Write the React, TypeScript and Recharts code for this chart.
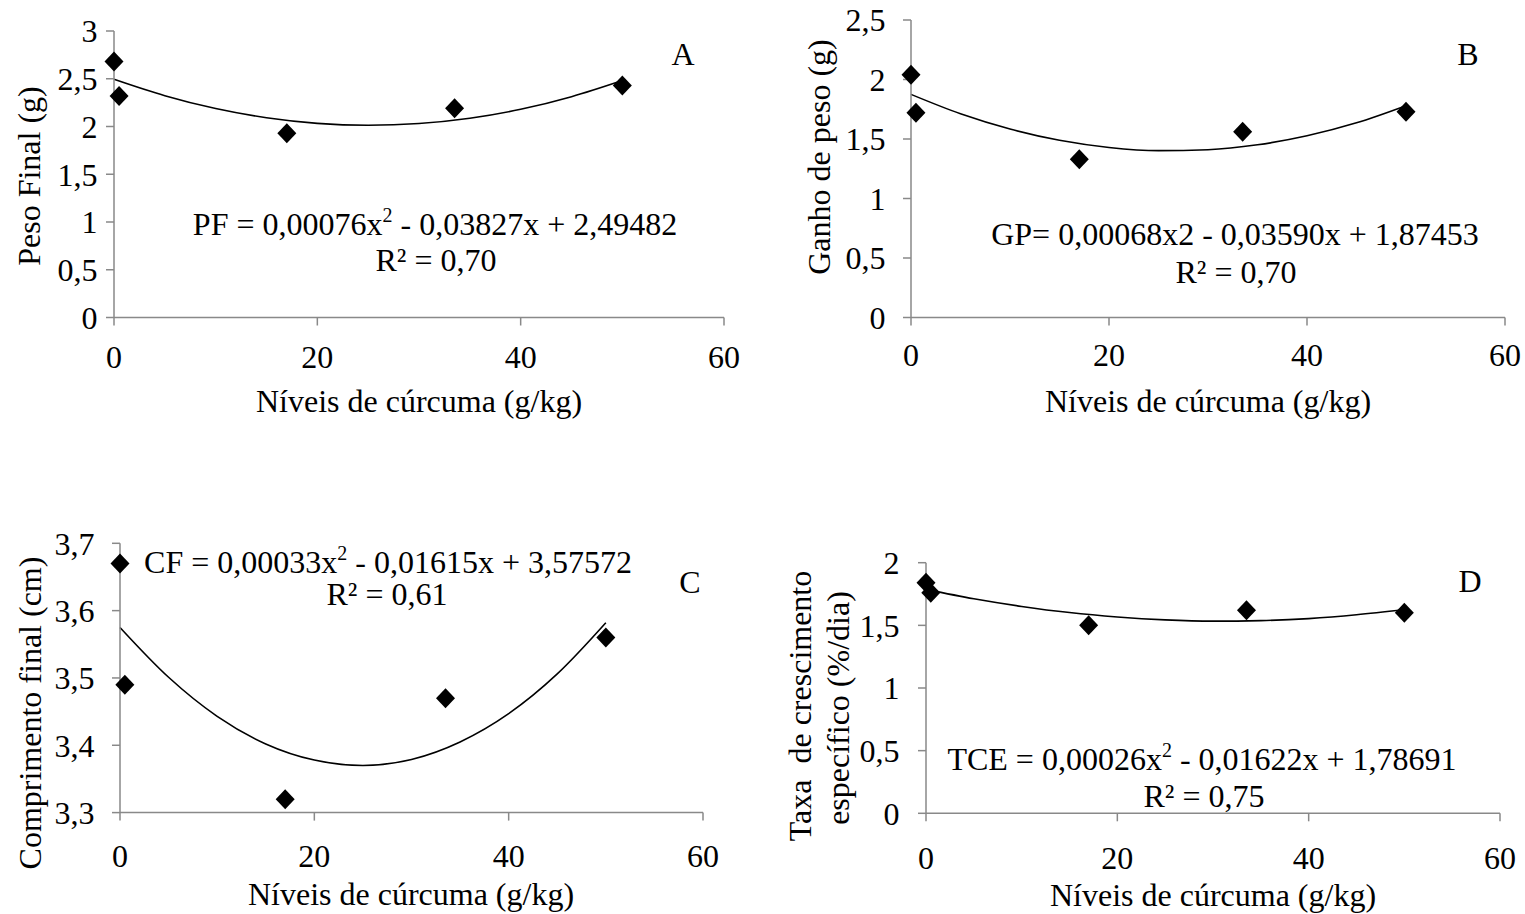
import React from 'react';
import { ComposedChart, XAxis, YAxis, Line, Scatter } from 'recharts';

// ---- data ----
const levels = [0, 0.5, 17, 33.5, 50];
const pesoFinal = [2.68, 2.32, 1.93, 2.19, 2.43];
const ganhoPeso = [2.04, 1.72, 1.33, 1.56, 1.73];
const comprimentoFinal = [3.67, 3.49, 3.32, 3.47, 3.56];
const taxaCrescimento = [1.84, 1.76, 1.5, 1.62, 1.6];

// trend-line values
const curveLevels = [0, 5, 10, 15, 20, 25, 30, 35, 40, 45, 50];
const pfCurve = [2.495, 2.323, 2.188, 2.092, 2.033, 2.013, 2.031, 2.086, 2.18, 2.312, 2.481];
const gpCurve = [1.875, 1.712, 1.584, 1.489, 1.429, 1.402, 1.41, 1.451, 1.527, 1.636, 1.78];
const cfCurve = [3.575, 3.501, 3.443, 3.402, 3.378, 3.37, 3.379, 3.405, 3.447, 3.506, 3.582];
const tceCurve = [1.787, 1.712, 1.651, 1.602, 1.567, 1.544, 1.534, 1.538, 1.554, 1.584, 1.626];

const xTicks = [0, 20, 40, 60];
const pfTicks = [0, 0.5, 1, 1.5, 2, 2.5, 3];
const gpTicks = [0, 0.5, 1, 1.5, 2, 2.5];
const cfTicks = [3.3, 3.4, 3.5, 3.6, 3.7];
const tceTicks = [0, 0.5, 1, 1.5, 2];

const xTitle = 'Níveis de cúrcuma (g/kg)';

const FONT = '"Liberation Serif", "Times New Roman", Times, serif';
const AXIS = '#898989';

const zip = (xs: number[], ys: number[]) => xs.map((x, i) => ({ x, y: ys[i] }));

const fmt = (v: number) =>
  Number.isInteger(v) ? String(v) : v.toFixed(1).replace('.', ',');

const Diamond = (props: any) => {
  const { cx, cy } = props;
  if (cx == null || cy == null) return null;
  return (
    <polygon
      points={`${cx},${cy - 10} ${cx + 9.5},${cy} ${cx},${cy + 10} ${cx - 9.5},${cy}`}
      fill="#000"
    />
  );
};

const T = ({ x, y, children, anchor = 'middle', size = 32 }: any) => (
  <text
    x={x}
    y={y}
    textAnchor={anchor}
    fontFamily={FONT}
    fontSize={size}
    fill="#000"
    style={{ whiteSpace: 'pre' }}
  >
    {children}
  </text>
);

const RT = ({ x, y, children, size = 32 }: any) => (
  <text
    transform={`translate(${x},${y}) rotate(-90)`}
    textAnchor="middle"
    fontFamily={FONT}
    fontSize={size}
    fill="#000"
    style={{ whiteSpace: 'pre' }}
  >
    {children}
  </text>
);

const Sup = ({ pre, post }: any) => (
  <>
    <tspan>{pre}</tspan>
    <tspan fontSize={20} dy={-13}>2</tspan>
    <tspan dy={13}>{post}</tspan>
  </>
);

function Panel(props: any) {
  const {
    left, top, width, height, margin, yAxisWidth, xTickMargin, yTickMargin,
    yDomain, yTicks, points, curve, children,
  } = props;
  return (
    <div style={{ position: 'absolute', left, top, width, height }}>
      <ComposedChart width={width} height={height} margin={margin}>
        <XAxis
          type="number"
          dataKey="x"
          domain={[0, 60]}
          ticks={xTicks}
          interval={0}
          height={40}
          tickSize={8}
          tickMargin={xTickMargin}
          axisLine={{ stroke: AXIS, strokeWidth: 1.5 }}
          tickLine={{ stroke: AXIS, strokeWidth: 1.5 }}
          tick={{ fill: '#000', fontSize: 32, fontFamily: FONT }}
        />
        <YAxis
          type="number"
          dataKey="y"
          domain={yDomain}
          ticks={yTicks}
          interval={0}
          width={yAxisWidth}
          tickSize={8}
          tickMargin={yTickMargin}
          tickFormatter={fmt}
          axisLine={{ stroke: AXIS, strokeWidth: 1.5 }}
          tickLine={{ stroke: AXIS, strokeWidth: 1.5 }}
          tick={{ fill: '#000', fontSize: 32, fontFamily: FONT }}
        />
        <Line
          data={curve}
          dataKey="y"
          type="monotone"
          stroke="#000"
          strokeWidth={1.6}
          dot={false}
          activeDot={false}
          isAnimationActive={false}
        />
        <Scatter
          data={points}
          dataKey="y"
          fill="#000"
          shape={Diamond}
          isAnimationActive={false}
        />
        {children}
      </ComposedChart>
    </div>
  );
}

export default function App() {
  return (
    <div
      style={{
        position: 'absolute',
        left: 0,
        top: 0,
        width: 1525,
        height: 914,
        background: '#fff',
        overflow: 'hidden',
      }}
    >
      {/* A */}
      <Panel
        left={0}
        top={0}
        width={770}
        height={420}
        margin={{ top: 31, right: 46, left: 0, bottom: 62.5 }}
        yAxisWidth={114}
        xTickMargin={19.6}
        yTickMargin={8.4}
        yDomain={[0, 3]}
        yTicks={pfTicks}
        points={zip(levels, pesoFinal)}
        curve={zip(curveLevels, pfCurve)}
      >
        <T x={683} y={65}>A</T>
        <T x={435} y={235}>
          <Sup pre="PF = 0,00076x" post=" - 0,03827x + 2,49482" />
        </T>
        <T x={436} y={271}>R² = 0,70</T>
        <T x={419} y={412}>{xTitle}</T>
        <RT x={40} y={176}>Peso Final (g)</RT>
      </Panel>

      {/* B */}
      <Panel
        left={770}
        top={0}
        width={755}
        height={420}
        margin={{ top: 20, right: 20, left: 0, bottom: 62.5 }}
        yAxisWidth={141}
        xTickMargin={17.8}
        yTickMargin={17.5}
        yDomain={[0, 2.5]}
        yTicks={gpTicks}
        points={zip(levels, ganhoPeso)}
        curve={zip(curveLevels, gpCurve)}
      >
        <T x={698} y={65}>B</T>
        <T x={465} y={245}>GP= 0,00068x2 - 0,03590x + 1,87453</T>
        <T x={466} y={283}>R² = 0,70</T>
        <T x={438} y={412}>{xTitle}</T>
        <RT x={60} y={157}>Ganho de peso (g)</RT>
      </Panel>

      {/* C */}
      <Panel
        left={0}
        top={420}
        width={770}
        height={494}
        margin={{ top: 123.3, right: 67, left: 0, bottom: 61.4 }}
        yAxisWidth={120}
        xTickMargin={24}
        yTickMargin={17.5}
        yDomain={[3.3, 3.7]}
        yTicks={cfTicks}
        points={zip(levels, comprimentoFinal)}
        curve={zip(curveLevels, cfCurve)}
      >
        <T x={690} y={173}>C</T>
        <T x={388} y={153}>
          <Sup pre="CF = 0,00033x" post=" - 0,01615x + 3,57572" />
        </T>
        <T x={387} y={185}>R² = 0,61</T>
        <T x={411} y={485}>{xTitle}</T>
        <RT x={41} y={293}>Comprimento final (cm)</RT>
      </Panel>

      {/* D */}
      <Panel
        left={770}
        top={420}
        width={755}
        height={494}
        margin={{ top: 142.7, right: 25, left: 0, bottom: 60.7 }}
        yAxisWidth={156}
        xTickMargin={25}
        yTickMargin={18.5}
        yDomain={[0, 2]}
        yTicks={tceTicks}
        points={zip(levels, taxaCrescimento)}
        curve={zip(curveLevels, tceCurve)}
      >
        <T x={700} y={172}>D</T>
        <T x={432} y={350}>
          <Sup pre="TCE = 0,00026x" post=" - 0,01622x + 1,78691" />
        </T>
        <T x={434} y={387}>R² = 0,75</T>
        <T x={443} y={486}>{xTitle}</T>
        <RT x={41} y={286}>Taxa  de crescimento</RT>
        <RT x={79} y={288}>específico (%/dia)</RT>
      </Panel>
    </div>
  );
}
